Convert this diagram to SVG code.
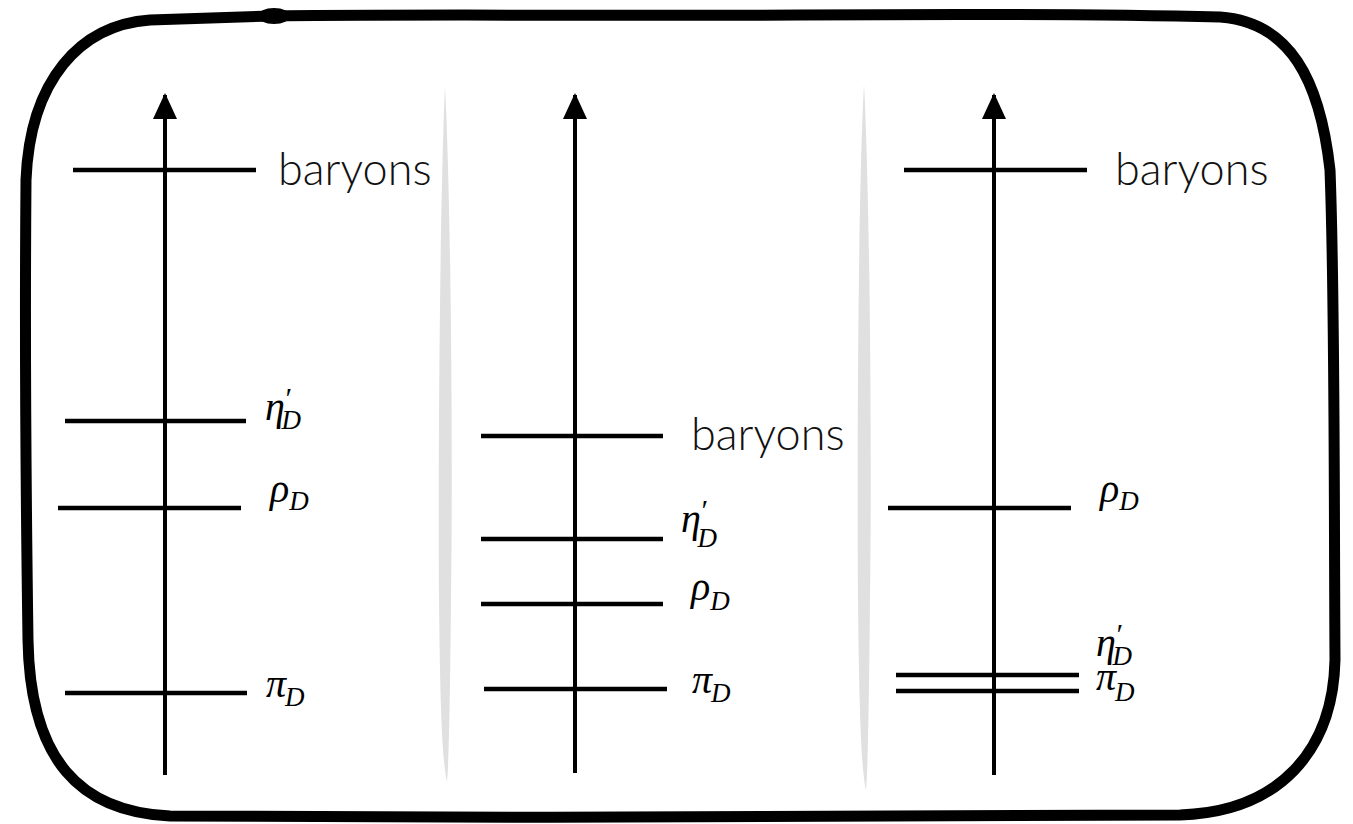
<svg xmlns="http://www.w3.org/2000/svg" width="1353" height="824" viewBox="0 0 1353 824">
<defs>
<style>
.ax{stroke:#000;stroke-width:4;fill:none}
.lv{stroke:#000;stroke-width:4.5;fill:none}
.bar{font-family:Lato,"Open Sans",sans-serif;font-weight:300;font-size:45px;fill:#111}
.g{font-family:"Liberation Serif","DejaVu Serif",serif;font-style:italic;font-size:40px;fill:#000}
.s{font-size:27px}
.p{font-size:30px}
.sep{fill:#e0e0e0}
</style>
<marker id="arr" viewBox="0 0 26 24" refX="24" refY="12" markerWidth="26" markerHeight="24" markerUnits="userSpaceOnUse" orient="auto">
<path d="M0 0 L26 12 L0 24 Z" fill="#000"/>
</marker>
</defs>
<rect width="1353" height="824" fill="#fff"/>
<g id="frame">
<path d="M150 20 C200 18 240 17 272 16 C400 14 600 16 800 15 C950 14 1100 14 1220 17 C1290 22 1320 80 1330 170 C1335 300 1334 500 1335 660 C1333 750 1280 812 1180 815 C900 818 500 818 170 816 C80 812 30 760 28 640 C26 500 25 300 26 180 C30 80 80 25 150 20 Z" fill="none" stroke="#000" stroke-width="11" stroke-linejoin="round"/>
<ellipse cx="274" cy="16" rx="16" ry="8" fill="#000"/>
</g>
<g id="separators">
<path class="sep" d="M445 86 C451 200 453 450 451 600 C450 700 449 760 447 782 C442 760 440 700 439 600 C438 450 440 200 445 86 Z"/>
<path class="sep" d="M864 84 C870 200 872 450 870 600 C869 700 868 770 866 790 C861 770 859 700 858 600 C857 450 858 200 864 84 Z"/>
</g>
<g id="connectors">
<line class="ax" x1="165" y1="775" x2="165" y2="95" marker-end="url(#arr)"/>
<line class="ax" x1="575" y1="773" x2="575" y2="95" marker-end="url(#arr)"/>
<line class="ax" x1="994" y1="775" x2="994" y2="95" marker-end="url(#arr)"/>
</g>
<g id="panel1">
<g id="p1-baryons"><line class="lv" x1="73" y1="170" x2="256" y2="170"/><text class="bar" x="278" y="185">baryons</text></g>
<g id="p1-eta"><line class="lv" x1="65" y1="421" x2="246" y2="421"/><text class="g" x="265" y="420">η<tspan class="p" dx="-1" dy="-12">′</tspan><tspan class="s" dx="-9" dy="21">D</tspan></text></g>
<g id="p1-rho"><line class="lv" x1="58" y1="508" x2="241" y2="508"/><text class="g" x="270" y="502">ρ<tspan class="s" dx="0" dy="8">D</tspan></text></g>
<g id="p1-pi"><line class="lv" x1="65" y1="693" x2="247" y2="693"/><text class="g" x="266" y="697">π<tspan class="s" dx="-1" dy="9">D</tspan></text></g>
</g>
<g id="panel2">
<g id="p2-baryons"><line class="lv" x1="481" y1="436" x2="663" y2="436"/><text class="bar" x="691" y="450">baryons</text></g>
<g id="p2-eta"><line class="lv" x1="481" y1="539" x2="663" y2="539"/><text class="g" x="681" y="532">η<tspan class="p" dx="-1" dy="-12">′</tspan><tspan class="s" dx="-9" dy="27">D</tspan></text></g>
<g id="p2-rho"><line class="lv" x1="481" y1="604" x2="663" y2="604"/><text class="g" x="691" y="600">ρ<tspan class="s" dx="0" dy="10">D</tspan></text></g>
<g id="p2-pi"><line class="lv" x1="484" y1="689" x2="667" y2="689"/><text class="g" x="692" y="693">π<tspan class="s" dx="-1" dy="9">D</tspan></text></g>
</g>
<g id="panel3">
<g id="p3-baryons"><line class="lv" x1="904" y1="170" x2="1087" y2="170"/><text class="bar" x="1115" y="185">baryons</text></g>
<g id="p3-rho"><line class="lv" x1="888" y1="508" x2="1071" y2="508"/><text class="g" x="1100" y="502">ρ<tspan class="s" dx="0" dy="8">D</tspan></text></g>
<g id="p3-eta"><line class="lv" x1="896" y1="675" x2="1079" y2="675"/><text class="g" x="1096" y="656">η<tspan class="p" dx="-1" dy="-12">′</tspan><tspan class="s" dx="-9" dy="21">D</tspan></text></g>
<g id="p3-pi"><line class="lv" x1="896" y1="691" x2="1079" y2="691"/><text class="g" x="1096" y="690">π<tspan class="s" dx="-1" dy="11">D</tspan></text></g>
</g>
</svg>
